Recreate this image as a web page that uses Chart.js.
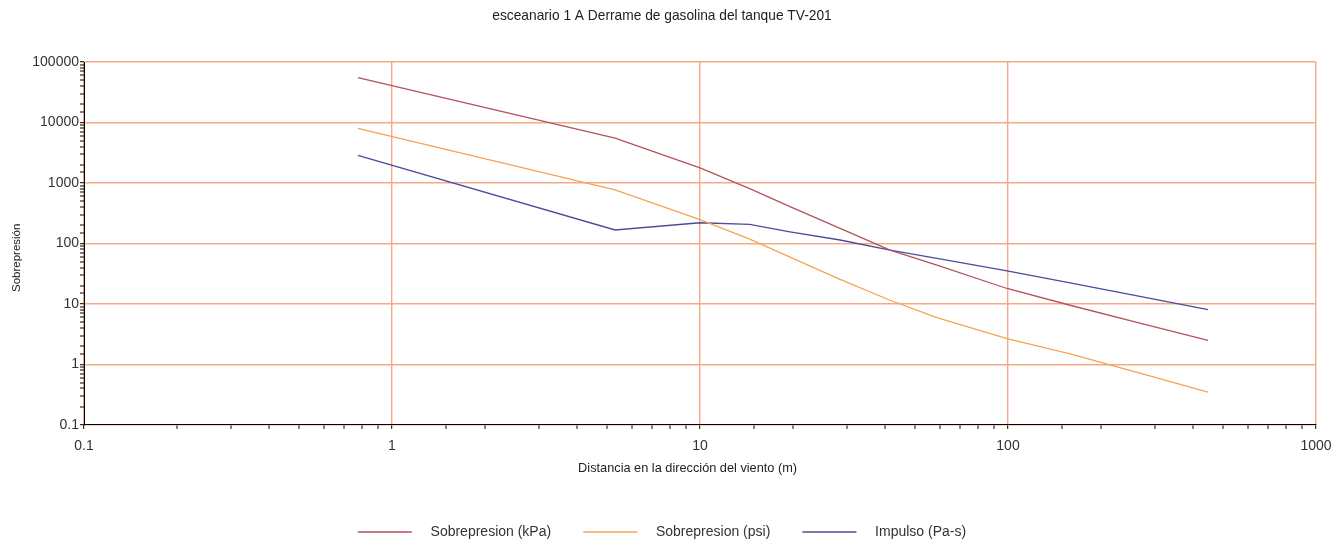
<html lang="es">
<head>
  <meta charset="UTF-8">
  <title>esceanario 1 A</title>
  <script src="https://cdn.jsdelivr.net/npm/chart.js"></script>
  <style>
    body { margin: 0; background: #fff; overflow: hidden; }
  </style>
</head>
<body>
  <canvas id="chart" width="1344" height="542"></canvas>
  <script>
    // distancia (m) y valores
    const distances = [0.775, 5.3, 10, 14.5, 19.6, 28.5, 41.4, 58.8, 99.3, 159, 268, 446];
    const kpa = [55300, 5530, 1780, 804, 406, 178, 77.8, 43.8, 18.0, 9.51, 4.82, 2.50];
    const psi = [7980, 769, 248, 118, 59.5, 25.4, 11.5, 5.95, 2.67, 1.50, 0.715, 0.347];
    const impulse = [2850, 167, 220, 206, 156, 114, 77.8, 56.6, 35.3, 22.3, 13.3, 8.07];

    const seriesNames = ["Sobrepresion (kPa)", "Sobrepresion (psi)", "Impulso (Pa-s)"];
    const seriesColors = ["#b5525c", "#f4a452", "#4c4c98"];
    const xTickLabels = ["0.1", "1", "10", "100", "1000"];
    const yTickLabels = ["0.1", "1", "10", "100", "1000", "10000", "100000"];

    const gridColor = "#f5a987";
    const textColor = "#333";

    function toPoints(ys) {
      return distances.map((x, i) => ({ x: x, y: ys[i] }));
    }

    function isDecade(v) {
      const l = Math.log10(v);
      return Math.abs(l - Math.round(l)) < 1e-4;
    }

    function decadeLabel(labels, v) {
      if (!isDecade(v)) return '';
      const s = String(Number(v.toPrecision(6)));
      return labels.includes(s) ? s : '';
    }

    // grid only on the decades, tick marks on every tick
    function gridWidth(ctx) {
      const t = ctx.scale.ticks[ctx.index];
      return (t && isDecade(t.value)) ? 1.4 : 0;
    }

    const datasets = [kpa, psi, impulse].map((ys, i) => ({
      label: '   ' + seriesNames[i] + (i < 2 ? '        ' : ''),
      data: toPoints(ys),
      borderColor: seriesColors[i],
      backgroundColor: seriesColors[i],
      borderWidth: 1.3,
      pointRadius: 0,
      tension: 0,
      fill: false
    }));

    new Chart(document.getElementById('chart').getContext('2d'), {
      type: 'line',
      data: { datasets: datasets },
      options: {
        responsive: false,
        animation: false,
        layout: { padding: { left: 8, right: 28, top: 0, bottom: -7 } },
        plugins: {
          title: {
            display: true,
            text: 'esceanario 1 A Derrame de gasolina del tanque TV-201',
            color: '#222',
            font: { family: 'Liberation Sans', size: 13.75, weight: 'normal' },
            padding: { top: 7.5, bottom: 38 }
          },
          legend: {
            position: 'bottom',
            labels: {
              usePointStyle: true,
              pointStyle: 'line',
              pointStyleWidth: 54,
              padding: 1,
              color: textColor,
              font: { family: 'Liberation Sans', size: 14 }
            }
          },
          tooltip: { enabled: false }
        },
        scales: {
          x: {
            type: 'logarithmic',
            min: 0.1,
            max: 1000,
            border: { color: '#000', width: 1 },
            grid: {
              color: gridColor,
              lineWidth: gridWidth,
              tickColor: '#000',
              tickWidth: 1,
              tickLength: 4
            },
            ticks: {
              autoSkip: false,
              maxRotation: 0,
              padding: 8.5,
              color: textColor,
              font: { family: 'Liberation Sans', size: 14 },
              callback: v => decadeLabel(xTickLabels, v)
            },
            title: {
              display: true,
              text: 'Distancia en la dirección del viento (m)       ',
              color: '#222',
              font: { family: 'Liberation Sans', size: 12.75 },
              padding: { top: -2, bottom: 48 }
            }
          },
          y: {
            type: 'logarithmic',
            min: 0.1,
            max: 100000,
            afterFit: scale => { scale.width = 76; },
            border: { color: '#000', width: 1 },
            grid: {
              color: gridColor,
              lineWidth: gridWidth,
              tickColor: '#000',
              tickWidth: 1,
              tickLength: 4
            },
            ticks: {
              autoSkip: false,
              padding: 1,
              color: textColor,
              font: { family: 'Liberation Sans', size: 14 },
              callback: v => decadeLabel(yTickLabels, v)
            },
            title: {
              display: true,
              text: 'Sobrepresión         ',
              color: '#222',
              font: { family: 'Liberation Sans', size: 11.5 },
              padding: { top: 2, bottom: 0 }
            }
          }
        }
      }
    });
  </script>
</body>
</html>
